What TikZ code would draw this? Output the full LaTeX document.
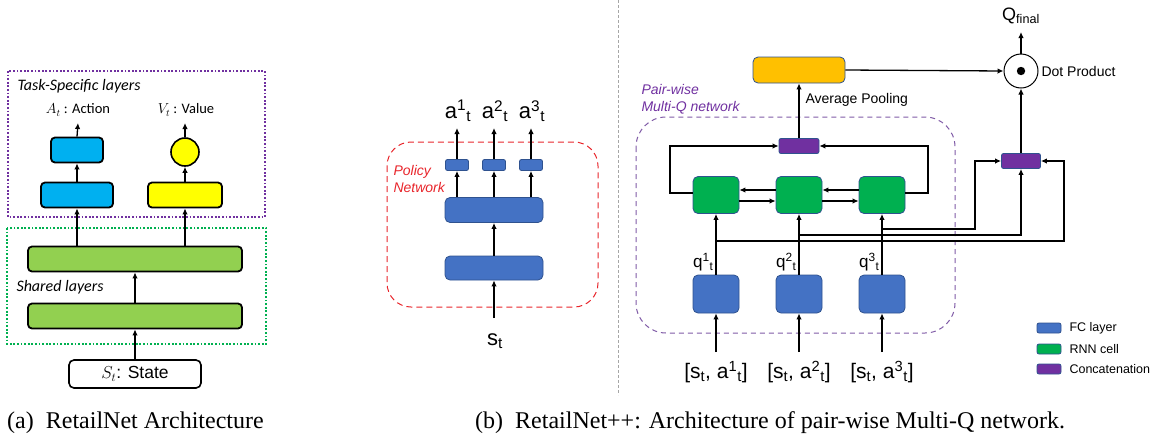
\documentclass[tikz,border=0pt]{standalone}
\usepackage{fontspec}
\setmainfont{Liberation Serif}
\setsansfont{Liberation Sans}
\newfontfamily\carlito{Carlito}
\usetikzlibrary{arrows.meta,calc}
\definecolor{SkyBlue}{HTML}{00B0F0}
\definecolor{Lemon}{HTML}{FFFF00}
\definecolor{Leaf}{HTML}{92D050}
\definecolor{TaskViolet}{HTML}{7030A0}
\definecolor{SharedGreen}{HTML}{00B050}
\definecolor{FCBlue}{HTML}{4472C4}
\definecolor{UnitEdge}{HTML}{2F528F}
\definecolor{RNNGreen}{HTML}{00B050}
\definecolor{ConcatPurple}{HTML}{7030A0}
\definecolor{Amber}{HTML}{FFC000}
\definecolor{PolicyRed}{HTML}{E8252B}
\definecolor{MultiQ}{HTML}{7F5AA6}
\newcommand\fsz[1]{\fontsize{#1}{#1}\selectfont}

\begin{document}
\begin{tikzpicture}[x=1pt,y=-1pt,every node/.style={font=\sffamily\fsz{14},text=black},arrow/.style={-{Latex[length=6pt,width=5.5pt]},line width=1.3pt},alayer/.style={draw=black,line width=1.8pt,rounded corners=4pt,inner sep=0pt,minimum height=25pt},netbox/.style={draw=UnitEdge,line width=0.8pt,rounded corners=#1,inner sep=0pt},netbox/.default=5pt,fc/.style={netbox,fill=FCBlue},rnn/.style={netbox,fill=RNNGreen},concat/.style={netbox=2pt,fill=ConcatPurple,minimum height=15pt}]
\useasboundingbox (0,0) rectangle (1159,437);

% (a) RetailNet
\draw[TaskViolet,line width=1.6pt,dash pattern=on 1.8pt off 1.8pt] (8,71) rectangle (265,217);
\draw[SharedGreen,line width=1.6pt,dash pattern=on 1.8pt off 1.8pt] (7,228) rectangle (266,344);
\node[anchor=west,font=\carlito\itshape\fsz{16}] (tasklab) at (14,86) {Task-Specific layers};
\node[anchor=west,font=\carlito\itshape\fsz{16}] (sharedlab) at (13,287) {Shared layers};
\node[alayer,fill=SkyBlue,minimum width=52pt] (act2) at (77,150) {}; \node[alayer,fill=SkyBlue,minimum width=72pt] (act1) at (77,195) {};
\node[circle,draw=black,line width=1.6pt,fill=Lemon,minimum size=28pt,inner sep=0pt] (val2) at (185,152) {}; \node[alayer,fill=Lemon,minimum width=74pt] (val1) at (185,195) {};
\node[alayer,fill=Leaf,minimum width=214pt] (sh2) at (135,259) {}; \node[alayer,fill=Leaf,minimum width=214pt] (sh1) at (135,316) {};
\node[draw=black,line width=1.6pt,rounded corners=5pt,minimum width=132pt,minimum height=28pt,font=\sffamily\fsz{17.5}] (state) at (135,374) {$S_t$: State};
\node[font=\carlito\fsz{14.5}] (actlab) at (78,110) {$A_t$ : Action}; \node[font=\carlito\fsz{14.5}] (vallab) at (186,110) {$V_t$ : Value};
\coordinate (actout) at (78,123); \coordinate (valout) at (185,123);
\draw[arrow] (act2.north) -- (actout); \draw[arrow] (val2.north) -- (valout);
\draw[arrow] (act1.north) -- (act2.south); \draw[arrow] (val1.north) -- (val2.south);
\draw[arrow] (sh2.north -| act1.south) -- (act1.south); \draw[arrow] (sh2.north -| val1.south) -- (val1.south);
\draw[arrow] (sh1.north) -- (sh2.south); \draw[arrow] (state.north) -- (sh1.south);

\draw[gray!70,line width=0.8pt,dash pattern=on 3pt off 2pt] (618,0) -- (618,395);

% (b) policy network
\draw[PolicyRed,line width=1pt,dash pattern=on 6pt off 4pt,rounded corners=24pt] (387,142) rectangle (598,307);
\node[anchor=west,align=left,text=PolicyRed,font=\sffamily\itshape\fontsize{14}{17}\selectfont] (pollab) at (390,178.5) {Policy\\Network};
\node[fc,minimum width=98pt,minimum height=24pt] (pol1) at (494,268) {};
\node[fc,minimum width=98pt,minimum height=25pt] (pol2) at (494,210) {};
\foreach \i/\x in {1/457,2/494,3/531}{
  \node[netbox=2pt,fill=FCBlue,minimum width=23pt,minimum height=11pt] (head\i) at (\x,165) {};
  \node[font=\sffamily\fsz{22}] (alab\i) at (\x+1,111) {a\textsuperscript{\i}\textsubscript{t}};
  \coordinate (aout\i) at (\x,128);
  \draw[arrow] (pol2.north -| head\i.south) -- (head\i.south); \draw[arrow] (head\i.north) -- (aout\i);
}
\draw[arrow] (pol1.north) -- (pol2.south);
\coordinate (sin) at (494,318); \node[font=\sffamily\fsz{22}] (slab) at (495,341) {s\textsubscript{t}};
\draw[arrow] (sin) -- (pol1.south);

% (b) pair-wise multi-Q network
\draw[MultiQ,line width=1pt,dash pattern=on 5pt off 4pt,rounded corners=30pt] (636,117) rectangle (955,333);
\node[anchor=west,align=left,text=TaskViolet,font=\sffamily\itshape\fontsize{14}{17}\selectfont] (mqlab) at (638,99.5) {Pair-wise\\Multi-Q network};
\node[fc,fill=Amber,minimum width=92pt,minimum height=26pt] (avg) at (799,70) {};
\node[anchor=west] (avglab) at (802,100) {Average Pooling};
\node[concat,minimum width=40pt] (cat1) at (799,146) {};
\node[concat,minimum width=39pt] (cat2) at (1021,161) {};
\node[circle,draw=black,line width=1pt,minimum size=34pt,inner sep=0pt] (dot) at (1021,71) {}; \fill (dot.center) circle (4.2);
\node[anchor=west] (dotlab) at (1038,71) {Dot Product};
\node[font=\sffamily\fsz{18}] (qfinal) at (1021,16) {Q\textsubscript{final}}; \coordinate (qout) at (1021,32);
\foreach \i/\x/\ty in {1/716/241,2/799/235,3/882/229}{
  \node[rnn,minimum width=46pt,minimum height=37pt] (rnn\i) at (\x,195) {};
  \node[fc,minimum width=46pt,minimum height=38pt] (fc\i) at (\x,294) {};
  \node[anchor=east,font=\sffamily\fsz{17}] (qlab\i) at (\x+1,262) {q\textsuperscript{\i}\textsubscript{t}};
  \node[font=\sffamily\fsz{21}] (inlab\i) at (\x,372) {[s\textsubscript{t}, a\textsuperscript{\i}\textsubscript{t}]};
  \coordinate (in\i) at (\x,352); \coordinate (tap\i) at (\x,\ty);
  \draw[arrow] (in\i) -- (fc\i.south); \draw[arrow] (fc\i.north) -- (rnn\i.south);
}
\draw[arrow] ([yshift=5pt]rnn2.west) -- ([yshift=5pt]rnn1.east); \draw[arrow] ([yshift=5pt]rnn3.west) -- ([yshift=5pt]rnn2.east);
\draw[arrow] ([yshift=-6pt]rnn1.east) -- ([yshift=-6pt]rnn2.west); \draw[arrow] ([yshift=-6pt]rnn2.east) -- ([yshift=-6pt]rnn3.west);
\coordinate (loopL) at (670,146); \coordinate (loopR) at (928,146);
\draw[arrow] ([yshift=2pt]rnn1.west) -| (loopL) -- (cat1.west); \draw[arrow] ([yshift=2pt]rnn3.east) -| (loopR) -- (cat1.east);
\draw[arrow] (cat1.north) -- (avg.south); \draw[arrow] (avg.east) -- (dot.west);
\draw[arrow] (cat2.north) -- (dot.south); \draw[arrow] (dot.north) -- (qout);
\coordinate (turn1) at (1064,161); \coordinate (turn3) at (975,161);
\draw[arrow] (tap1) -| (turn1) -- (cat2.east); \draw[arrow] (tap2) -| (cat2.south); \draw[arrow] (tap3) -| (turn3) -- (cat2.west);

% legend
\foreach \c/\t/\y in {FCBlue/FC layer/328,RNNGreen/RNN cell/349,ConcatPurple/Concatenation/369}{
  \node[netbox=2pt,fill=\c,minimum width=24pt,minimum height=10pt] (key\y) at (1049,\y) {};
  \node[anchor=west,font=\sffamily\fsz{12.5}] (keylab\y) at (1066,\y) {\t};
}

% captions
\node[anchor=base west,inner sep=0pt,font=\rmfamily\fsz{24}] (capa) at (7,428) {(a)\enspace RetailNet Architecture};
\node[anchor=base west,inner sep=0pt,font=\rmfamily\fsz{24}] (capb) at (475,428) {(b)\enspace RetailNet++: Architecture of pair-wise Multi-Q network.};
\end{tikzpicture}
\end{document}
